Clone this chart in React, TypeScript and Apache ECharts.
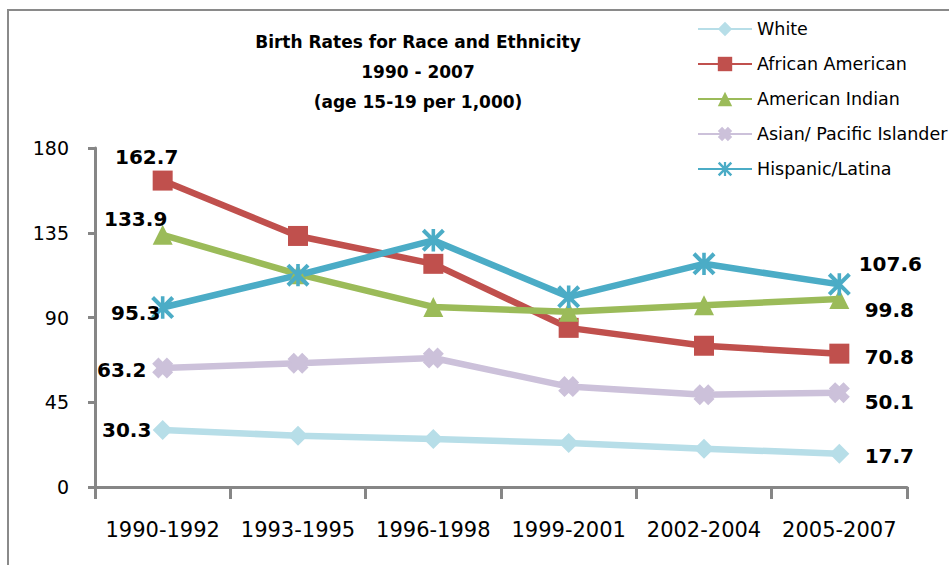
import React, { useEffect, useRef } from "react";
import * as echarts from "echarts";

const categories = ["1990-1992", "1993-1995", "1996-1998", "1999-2001", "2002-2004", "2005-2007"];
const white = [30.3, 27.2, 25.5, 23.4, 20.3, 17.7];
const africanAmerican = [162.7, 133.3, 118.5, 84.5, 75.0, 70.8];
const americanIndian = [133.9, 113.0, 95.6, 93.0, 96.5, 99.8];
const asianPacific = [63.2, 65.7, 68.5, 53.3, 49.0, 50.1];
const hispanic = [95.3, 112.5, 131.0, 101.0, 118.5, 107.6];
const yTicks = [0, 45, 90, 135, 180];
const titleLines = ["Birth Rates for Race and Ethnicity", "1990 - 2007", "(age 15-19 per 1,000)"];

const FONT = "DejaVu Sans";

const xSymbol =
  "path://M0,3 L3,0 L5,2 L7,0 L10,3 L8,5 L10,7 L7,10 L5,8 L3,10 L0,7 L2,5 Z";
const starSymbol =
  "path://M4.2,0 L5.8,0 L5.8,10 L4.2,10 Z M1.14,-0.14 L10.14,8.86 L8.86,10.14 L-0.14,1.14 Z M10.14,1.14 L1.14,10.14 L-0.14,8.86 L8.86,-0.14 Z";

function buildData(values: number[], first: number[], last: number[]) {
  return values.map((v, i) => {
    if (i === 0 || i === values.length - 1) {
      const off = i === 0 ? first : last;
      return {
        value: v,
        label: {
          show: true,
          position: "inside",
          offset: off,
          formatter: String(v),
          fontFamily: FONT,
          fontWeight: "bold",
          fontSize: 20,
          color: "#000",
        },
      };
    }
    return { value: v };
  });
}

export default function App() {
  const ref = useRef<HTMLDivElement>(null);
  useEffect(() => {
    if (!ref.current) return;
    const chart = echarts.init(ref.current, null, { renderer: "svg" });
    const mk = (
      name: string,
      values: number[],
      color: string,
      symbol: string,
      size: number,
      first: number[],
      last: number[]
    ) => ({
      name,
      type: "line",
      data: buildData(values, first, last),
      symbol,
      symbolSize: size,
      lineStyle: { color, width: 6.5 },
      itemStyle: { color, borderColor: color, borderWidth: 0 },
      label: { show: false },
      emphasis: { disabled: true },
    });
    chart.setOption({
      animation: false,
      backgroundColor: "#fff",
      graphic: [
        {
          type: "rect",
          shape: { x: 8, y: 10, width: 1000, height: 700 },
          style: { fill: "none", stroke: "#8a8a8a", lineWidth: 2 },
          silent: true,
          z: -1,
        },
        ...titleLines.map((t, i) => ({
          type: "text",
          x: 418,
          y: 42 + i * 30,
          style: {
            text: t,
            fontFamily: FONT,
            fontWeight: "bold",
            fontSize: 17,
            fill: "#000",
            textAlign: "center",
            textVerticalAlign: "middle",
          },
        })),
      ],
      legend: {
        orient: "vertical",
        left: 692,
        top: 15,
        itemWidth: 54,
        itemHeight: 18,
        itemGap: 17,
        textStyle: { fontFamily: FONT, fontSize: 17.5, color: "#000" },
        data: ["White", "African American", "American Indian", "Asian/ Pacific Islander", "Hispanic/Latina"],
      },
      grid: { left: 95, right: 42, top: 148, bottom: 78, containLabel: false },
      xAxis: {
        type: "category",
        data: categories,
        boundaryGap: true,
        axisLine: { show: true, lineStyle: { color: "#868686", width: 3 } },
        axisTick: { show: true, interval: 0, length: 12, lineStyle: { color: "#868686", width: 3 } },
        axisLabel: { interval: 0, fontFamily: FONT, fontSize: 21, color: "#000", margin: 32 },
        splitLine: { show: false },
      },
      yAxis: {
        type: "value",
        min: yTicks[0],
        max: yTicks[yTicks.length - 1],
        interval: 45,
        axisLine: { show: true, lineStyle: { color: "#868686", width: 3 } },
        axisTick: { show: true, length: 7, lineStyle: { color: "#868686", width: 3 } },
        axisLabel: { fontFamily: FONT, fontSize: 19, color: "#000", margin: 26 },
        splitLine: { show: false },
      },
      series: [
        mk("White", white, "#B7DEE8", "diamond", 20, [-36, 0], [50, 2]),
        mk("African American", africanAmerican, "#C0504D", "rect", 20, [-16, -24], [50, 3]),
        mk("American Indian", americanIndian, "#9BBB59", "triangle", 20, [-27, -16], [50, 11]),
        mk("Asian/ Pacific Islander", asianPacific, "#CCC1DA", xSymbol, 21, [-41, 2], [50, 9]),
        mk("Hispanic/Latina", hispanic, "#4BACC6", starSymbol, 23, [-27, 5], [51, -20]),
      ],
    });
    return () => chart.dispose();
  }, []);
  return (
    <div
      ref={ref}
      style={{ position: "absolute", left: 0, top: 0, width: 949, height: 565 }}
    />
  );
}
